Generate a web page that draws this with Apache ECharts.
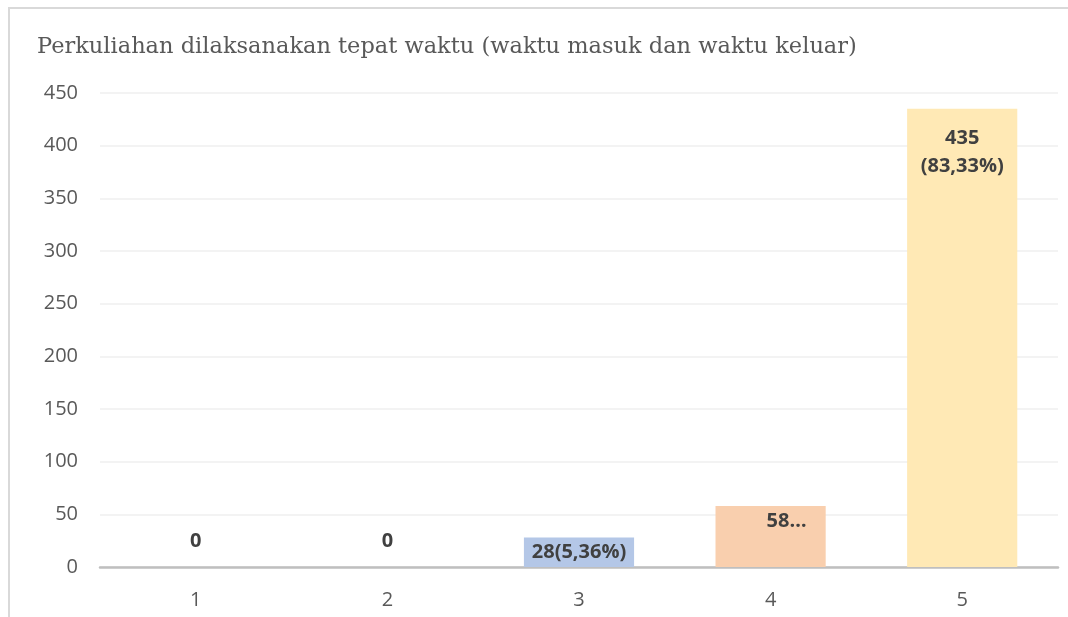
<!DOCTYPE html>
<html>
<head>
<meta charset="utf-8">
<script src="https://cdn.jsdelivr.net/npm/echarts@6/dist/echarts.min.js"></script>
<style>
  html, body { margin: 0; padding: 0; background: #ffffff; }
  #frame { position: absolute; left: 8px; top: 7px; width: 1060px; height: 610px;
           border-left: 2px solid #d9d9d9; border-top: 2px solid #d9d9d9; box-sizing: border-box; }
  #chart { position: absolute; left: 0; top: 0; width: 1068px; height: 617px; }
</style>
</head>
<body>
<div id="frame"></div>
<div id="chart"></div>
<script>
// Survey answers on a 1–5 scale
const categories = ['1', '2', '3', '4', '5'];
const counts = [0, 0, 28, 58, 435];
const labelTexts = ['0', '0', '28(5,36%)', '58…', '435\n(83,33%)'];
const barColors = ['#b4c7e7', '#b4c7e7', '#b4c7e7', '#f9cfae', '#ffe9b5'];
const yTicks = [0, 50, 100, 150, 200, 250, 300, 350, 400, 450];

const labelStyle = { fontFamily: 'Open Sans', fontWeight: 'bold', fontSize: 20, color: '#404040', lineHeight: 28 };

// label placement for each bar
function labelFor(i) {
  const v = counts[i];
  if (v === 0) return Object.assign({ show: true, position: 'top', distance: 12 }, labelStyle);
  if (i === 3) return Object.assign({ show: true, position: 'insideTop', distance: 1, offset: [16, 0] }, labelStyle);
  if (i === 4) return Object.assign({ show: true, position: 'insideTop', distance: 15 }, labelStyle);
  return Object.assign({ show: true, position: 'insideTop', distance: 1 }, labelStyle);
}

const chart = echarts.init(document.getElementById('chart'), null, { renderer: 'canvas' });
chart.setOption({
  animation: false,
  title: {
    text: 'Perkuliahan dilaksanakan tepat waktu (waktu masuk dan waktu keluar)',
    left: 32, top: 31,
    textStyle: { fontFamily: 'DejaVu Serif', fontWeight: 'normal', fontSize: 22.5, color: '#595959' }
  },
  grid: { left: 100, right: 10, top: 93, bottom: 50 },
  xAxis: {
    type: 'category',
    data: categories,
    axisLine: { lineStyle: { color: '#bfbfbf', width: 2.5 } },
    axisTick: { show: false },
    axisLabel: { fontFamily: 'Open Sans', fontSize: 20, color: '#595959', margin: 23 }
  },
  yAxis: {
    type: 'value',
    min: yTicks[0], max: yTicks[yTicks.length - 1], interval: 50,
    axisLine: { show: false },
    axisTick: { show: false },
    splitLine: { lineStyle: { color: '#efefef', width: 1.5 } },
    axisLabel: { fontFamily: 'Open Sans', fontSize: 20, color: '#595959', margin: 22 }
  },
  series: [{
    type: 'bar',
    barWidth: '57.5%',
    data: counts.map((v, i) => ({
      value: v,
      itemStyle: { color: barColors[i] },
      label: Object.assign(labelFor(i), { formatter: () => labelTexts[i] })
    }))
  }]
});
</script>
</body>
</html>
